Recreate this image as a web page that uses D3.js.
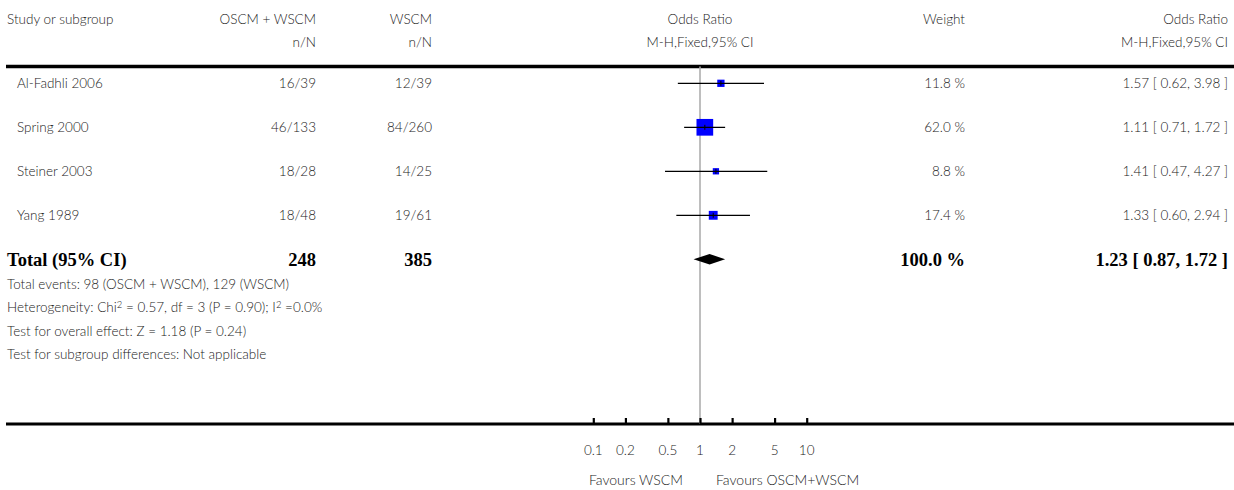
<!DOCTYPE html>
<html>
<head>
<meta charset="utf-8">
<script src="https://cdn.jsdelivr.net/npm/d3@7"></script>
<style>
  body { margin: 0; background: #fff; }
  text { font-family: Lato, "Open Sans", sans-serif; font-weight: 300; font-size: 13.5px; fill: #222; }
  .bold { font-family: "Liberation Serif", "DejaVu Serif", serif; font-weight: bold; font-size: 18.5px; fill: #000; }
  .fav { font-size: 14px; }
</style>
</head>
<body>
<svg id="svg1" width="1234" height="490"></svg>
<script>
// study rows
const studies = ["Al-Fadhli 2006", "Spring 2000", "Steiner 2003", "Yang 1989"];
const treatN = ["16/39", "46/133", "18/28", "18/48"];
const controlN = ["12/39", "84/260", "14/25", "19/61"];
const oddsRatio = [1.57, 1.11, 1.41, 1.33];
const ciLow = [0.62, 0.71, 0.47, 0.60];
const ciHigh = [3.98, 1.72, 4.27, 2.94];
const weights = [11.8, 62.0, 8.8, 17.4];

// pooled row
const totalLabel = "Total (95% CI)";
const totalTreat = 248;
const totalControl = 385;
const totalOR = 1.23;
const totalLow = 0.87;
const totalHigh = 1.72;
const totalWeight = 100.0;

const tickValues = [0.1, 0.2, 0.5, 1, 2, 5, 10];
const tickLabels = ["0.1", "0.2", "0.5", "1", "2", "5", "10"];

const footer = [
    "Total events: 98 (OSCM + WSCM), 129 (WSCM)",
    "Heterogeneity: Chi|2| = 0.57, df = 3 (P = 0.90); I|2| =0.0%",
    "Test for overall effect: Z = 1.18 (P = 0.24)",
    "Test for subgroup differences: Not applicable"
];

const svg = d3.select("#svg1");

// columns (right edges mostly)
const colStudy = 7, colTreat = 316, colCtrl = 432, colWeight = 965, colOR = 1228;

// forest scale
const x = d3.scaleLog().domain([0.1, 10]).range([593.3, 806.7]);
const y = d3.scaleLinear().domain([0, 4]).range([83.3, 259.3]);
const boxSize = d3.scaleSqrt().domain([0, 100]).range([0, 21.2]);

const topLine = 66.5, axisY = 424;

function txt(xp, yp, s, anchor, cls) {
    const t = svg.append("text")
        .attr("x", xp).attr("y", yp)
        .attr("dy", "0.35em")
        .attr("text-anchor", anchor || "start")
        .text(s);
    if (cls) t.attr("class", cls);
    return t;
}

// headers
txt(colStudy, 19, "Study or subgroup");
txt(colTreat, 19, "OSCM + WSCM", "end");
txt(colCtrl, 19, "WSCM", "end");
txt(x(1), 19, "Odds Ratio", "middle");
txt(colWeight, 19, "Weight", "end");
txt(colOR, 19, "Odds Ratio", "end");
txt(colTreat, 42, "n/N", "end");
txt(colCtrl, 42, "n/N", "end");
txt(x(1), 42, "M-H,Fixed,95% CI", "middle");
txt(colOR, 42, "M-H,Fixed,95% CI", "end");

// horizontal rules
svg.append("line").attr("x1", 6).attr("x2", 1234)
    .attr("y1", topLine).attr("y2", topLine)
    .attr("stroke", "#000").attr("stroke-width", 3.5);
svg.append("line").attr("x1", 6).attr("x2", 1234)
    .attr("y1", axisY).attr("y2", axisY)
    .attr("stroke", "#000").attr("stroke-width", 3);

// line of no effect
svg.append("line").attr("x1", x(1)).attr("x2", x(1))
    .attr("y1", topLine).attr("y2", axisY)
    .attr("stroke", "#a8a8a8").attr("stroke-width", 1.5);

// study rows
studies.forEach((s, i) => {
    const yy = y(i);
    txt(17, yy, s);
    txt(colTreat, yy, treatN[i], "end");
    txt(colCtrl, yy, controlN[i], "end");
    txt(colWeight, yy, weights[i].toFixed(1) + " %", "end");
    txt(colOR, yy, oddsRatio[i].toFixed(2) + " [ " + ciLow[i].toFixed(2) + ", " + ciHigh[i].toFixed(2) + " ]", "end");

    const b = boxSize(weights[i]);
    svg.append("rect")
        .attr("x", x(oddsRatio[i]) - b / 2).attr("y", yy - b / 2)
        .attr("width", b).attr("height", b)
        .attr("fill", "#0000ff");
    svg.append("line")
        .attr("x1", x(ciLow[i])).attr("x2", x(ciHigh[i]))
        .attr("y1", yy).attr("y2", yy)
        .attr("stroke", "#000").attr("stroke-width", 1.3);
    svg.append("line")
        .attr("x1", x(oddsRatio[i])).attr("x2", x(oddsRatio[i]))
        .attr("y1", yy - 2.5).attr("y2", yy + 2.5)
        .attr("stroke", "#000").attr("stroke-width", 1);
});

// total row
const ty = y(4);
txt(colStudy, ty, totalLabel, "start", "bold");
txt(colTreat, ty, totalTreat, "end", "bold");
txt(colCtrl, ty, totalControl, "end", "bold");
txt(colWeight, ty, totalWeight.toFixed(1) + " %", "end", "bold");
txt(colOR, ty, totalOR.toFixed(2) + " [ " + totalLow.toFixed(2) + ", " + totalHigh.toFixed(2) + " ]", "end", "bold");

svg.append("path")
    .attr("d", d3.line()([
        [x(totalLow), ty], [x(totalOR), ty - 5.3],
        [x(totalHigh), ty], [x(totalOR), ty + 5.3]
    ]) + "Z")
    .attr("fill", "#000");

// footer notes, |2| means superscript 2
footer.forEach((f, i) => {
    const t = txt(colStudy, 284 + i * 23.5, "");
    let lift = false;
    f.split("|").forEach((part, k) => {
        const sp = t.append("tspan").text(part);
        if (k % 2 === 1) {
            sp.attr("dy", -4.5).style("font-size", "9.5px");
            lift = true;
        } else if (lift) {
            sp.attr("dy", 4.5);
            lift = false;
        }
    });
});

// axis
const axis = d3.axisTop(x).tickValues(tickValues).tickSize(6).tickFormat("");
const ax = svg.append("g").attr("transform", `translate(0,${axisY})`).call(axis);
ax.select(".domain").remove();
ax.selectAll(".tick line").attr("stroke", "#000").attr("stroke-width", 2.2);

tickValues.forEach((v, i) => {
    txt(x(v), 450, tickLabels[i], "middle");
});

txt(x(1) - 17, 480, "Favours WSCM", "end", "fav");
txt(x(1) + 16, 480, "Favours OSCM+WSCM", "start", "fav");
</script>
</body>
</html>
